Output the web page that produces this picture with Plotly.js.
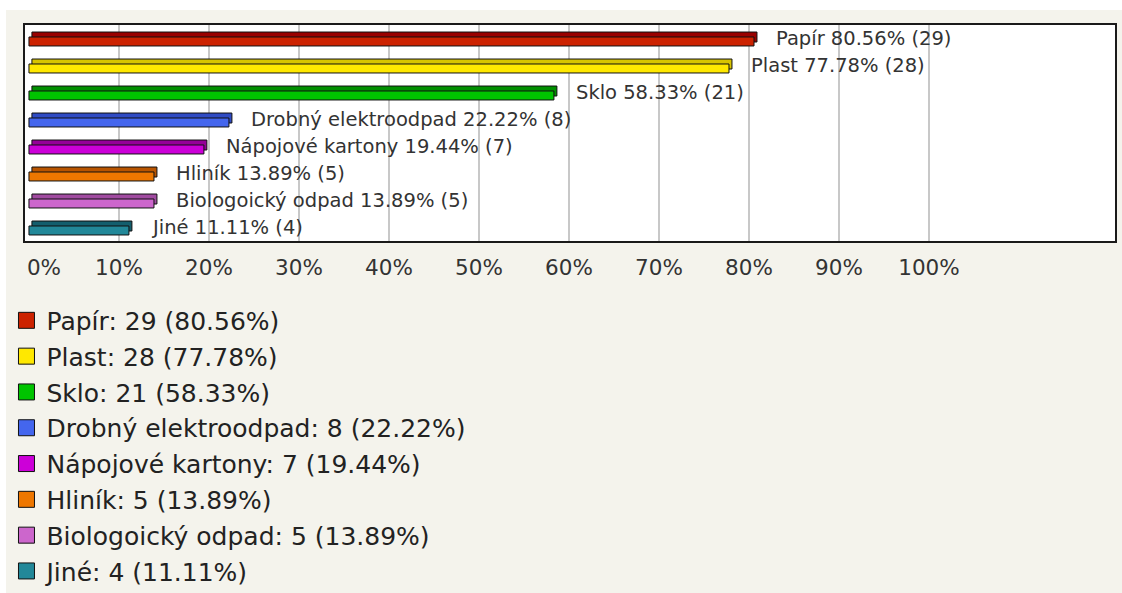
<!DOCTYPE html>
<html>
<head>
<meta charset="utf-8">
<script src="https://cdn.plot.ly/plotly-3.0.1.min.js"></script>
<style>
  html, body { margin: 0; padding: 0; background: #ffffff; }
  #chart { position: absolute; left: 6px; top: 10px; width: 1116px; height: 583px; }
</style>
</head>
<body>
<div id="chart"></div>
<script>
const categories = ['Papír', 'Plast', 'Sklo', 'Drobný elektroodpad', 'Nápojové kartony', 'Hliník', 'Biologoický odpad', 'Jiné'];
const counts = [29, 28, 21, 8, 7, 5, 5, 4];
const percents = [80.56, 77.78, 58.33, 22.22, 19.44, 13.89, 13.89, 11.11];
const frontColors = ['#cc2200', '#ffe800', '#00c400', '#4466ee', '#cc00d8', '#ee7700', '#cc66cc', '#228899'];
const topColors = ['#990000', '#d8c400', '#008f00', '#2f4bc4', '#950098', '#b85400', '#a04aa0', '#135e6d'];
const tickValues = [10, 20, 30, 40, 50, 60, 70, 80, 90, 100];
const tickLabels = ['10%', '20%', '30%', '40%', '50%', '60%', '70%', '80%', '90%', '100%'];
const zeroTickValues = [0];
const zeroTickLabels = ['0%'];

const FONT = 'DejaVu Sans, Verdana, sans-serif';
const TICKFONT = { family: FONT, size: 21.5, color: '#333' };

const backBars = {
  type: 'bar', orientation: 'h',
  y: categories, x: percents, base: 0.33,
  width: 0.37, offset: -0.24,
  marker: { color: topColors, line: { color: '#111', width: 1 } },
  showlegend: false, hoverinfo: 'skip'
};
const frontBars = {
  type: 'bar', orientation: 'h',
  y: categories, x: percents,
  width: 0.333, offset: -0.056,
  marker: { color: frontColors, line: { color: '#111', width: 1 } },
  showlegend: false, hoverinfo: 'skip'
};
const legendTraces = categories.map((c, i) => ({
  type: 'scatter', mode: 'markers',
  x: [null], y: [null], xaxis: 'x2',
  name: c + ': ' + counts[i] + ' (' + percents[i].toFixed(2) + '%)',
  legendgroup: 'g' + i,
  marker: { symbol: 'square', size: 16, color: frontColors[i], line: { color: '#111', width: 1 } },
  hoverinfo: 'skip'
}));

const annotations = categories.map((c, i) => ({
  x: percents[i], y: c, xref: 'x', yref: 'y',
  text: c + ' ' + percents[i].toFixed(2) + '% (' + counts[i] + ')',
  showarrow: false, xanchor: 'left', yanchor: 'middle', xshift: 20,
  font: { family: FONT, size: 19.5, color: '#333' }
}));

const layout = {
  width: 1116, height: 583,
  paper_bgcolor: '#f4f3ec', plot_bgcolor: '#ffffff',
  margin: { l: 19, r: 7, t: 15, b: 352, pad: 0, autoexpand: false },
  barmode: 'overlay',
  xaxis: {
    range: [-0.44, 120.67], tickvals: tickValues, ticktext: tickLabels,
    showgrid: true, gridcolor: '#c8c8c8', gridwidth: 1.5,
    zeroline: false,
    showline: true, mirror: true, linecolor: '#1a1a1a', linewidth: 2,
    ticks: '', ticklabelstandoff: 6, ticklabeloverflow: 'allow',
    tickfont: TICKFONT,
    automargin: false, fixedrange: true
  },
  xaxis2: {
    overlaying: 'x', matches: 'x', anchor: 'y', side: 'bottom',
    range: [-0.44, 120.67], tickvals: zeroTickValues, ticktext: zeroTickLabels,
    ticklabelshift: 15, showgrid: false, zeroline: false,
    showline: true, mirror: true, linecolor: '#1a1a1a', linewidth: 2,
    ticks: '', ticklabelstandoff: 6, ticklabeloverflow: 'allow',
    tickfont: TICKFONT,
    automargin: false, fixedrange: true
  },
  yaxis: {
    type: 'category', categoryarray: categories, range: [7.5, -0.5],
    showticklabels: false, showgrid: false, zeroline: false,
    showline: true, mirror: true, linecolor: '#1a1a1a', linewidth: 2,
    ticks: '', automargin: false, fixedrange: true
  },
  showlegend: true,
  legend: {
    x: -0.017, y: -0.262, xanchor: 'left', yanchor: 'top',
    orientation: 'v', tracegroupgap: 0.3,
    font: { family: FONT, size: 25, color: '#222' },
    bgcolor: 'rgba(0,0,0,0)', borderwidth: 0
  },
  annotations: annotations
};

Plotly.newPlot('chart', [backBars, frontBars].concat(legendTraces), layout, { displayModeBar: false, staticPlot: true });
</script>
</body>
</html>
